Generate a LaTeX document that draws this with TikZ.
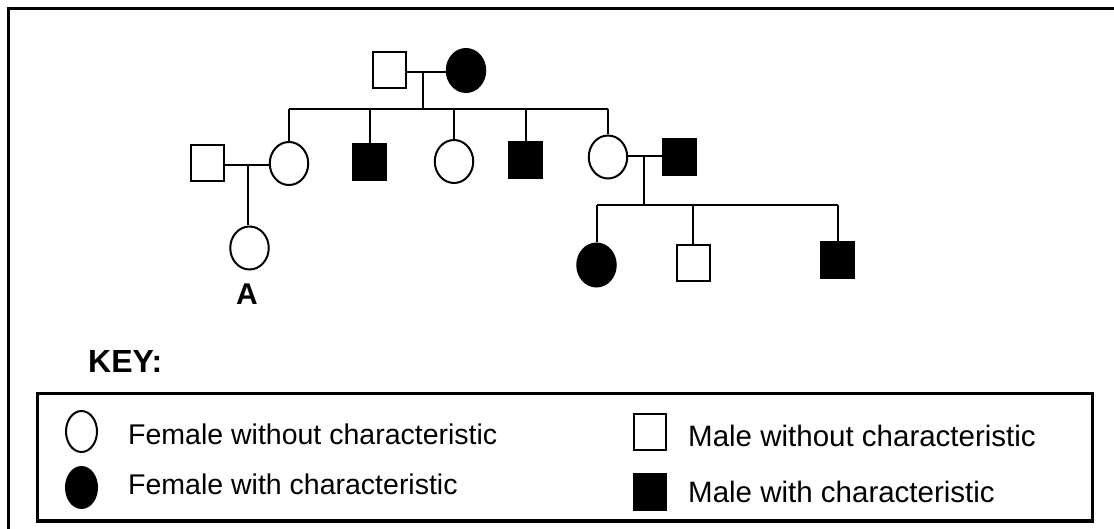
\documentclass[tikz,border=0pt]{standalone}
\usepackage{fontspec}
\setmainfont{Liberation Sans}
\usetikzlibrary{shapes.geometric,backgrounds}
\tikzset{
  fem/.style={ellipse, draw, fill=white, line width=2pt, minimum width=38.5pt, minimum height=43pt, inner sep=0pt},
  femA/.style={fem, fill=black},
  mal/.style={rectangle, draw, fill=white, line width=2pt, minimum width=33pt, minimum height=36pt, inner sep=0pt},
  malA/.style={mal, fill=black},
  link/.style={line width=2pt},
  legtext/.style={anchor=base west, inner sep=0pt, font=\fontsize{28.5}{30}\selectfont},
  boldlab/.style={inner sep=0pt, font=\bfseries\fontsize{30}{32}\selectfont},
}
\begin{document}
\begin{tikzpicture}[x=1pt,y=-1pt]
\useasboundingbox (0,0) rectangle (1114,529);
\draw[line width=3.4pt] (8.5,529) -- (8.5,8.5) -- (1114,8.5);

% generation I
\node[mal]  (p1) at (389.5,70.5) {};
\node[femA] (p2) at (466,70.5) {};
% generation II
\node[mal]  (g1) at (207.5,163.5) {};
\node[fem]  (g2) at (289,163.5) {};
\node[malA] (g3) at (369.5,162) {};
\node[fem]  (g4) at (454,161.5) {};
\node[malA] (g5) at (525.5,160) {};
\node[fem]  (g6) at (608,157) {};
\node[malA] (g7) at (679.5,157) {};
% generation III
\node[fem]  (A)  at (249.5,248) {};
\node[boldlab, anchor=base] (labA) at (247,305) {A};
\node[femA] (c1) at (596.5,265) {};
\node[mal]  (c2) at (693,263) {};
\node[malA] (c3) at (837.5,260) {};

\begin{scope}[on background layer]
  \coordinate (p12) at (423,72);
  \coordinate (s1) at (423,109);
  \draw[link] (p1.east |- p12) -- (p2.west |- p12);
  \draw[link] (p12) -- (s1);
  \draw[link] (g2.north |- s1) -- (g6.north |- s1);
  \foreach \n in {g2,g3,g4,g5,g6} \draw[link] (\n.north |- s1) -- (\n.north);
  \coordinate (l12) at (248,165);
  \draw[link] (g1.east |- l12) -- (g2.west |- l12);
  \draw[link] (l12) -- (l12 |- A.north);
  \coordinate (r12) at (644,156);
  \coordinate (s2) at (644,205);
  \draw[link] (g6.east |- r12) -- (g7.west |- r12);
  \draw[link] (r12) -- (s2);
  \draw[link] (c1.north |- s2) -- (c3.north |- s2);
  \foreach \n in {c1,c2,c3} \draw[link] (\n.north |- s2) -- (\n.north);
\end{scope}

% key
\node[boldlab, anchor=base west, font=\bfseries\fontsize{32}{34}\selectfont] (key) at (88,372) {KEY:};
\draw[line width=3.2pt] (37.5,393.3) rectangle (1092.3,521);
\node[fem, minimum width=31pt, minimum height=41pt] (kf1) at (81.5,431.5) {};
\node[femA, minimum width=31pt, minimum height=41pt] (kf2) at (81.5,487.5) {};
\node[legtext] (tf1) at (128,444) {Female without characteristic};
\node[legtext] (tf2) at (128,494) {Female with characteristic};
\node[mal, minimum width=32pt, minimum height=36pt] (km1) at (650,432) {};
\node[malA, minimum width=32pt, minimum height=36pt] (km2) at (650,492) {};
\node[legtext, font=\fontsize{29.5}{31}\selectfont] (tm1) at (688,446) {Male without characteristic};
\node[legtext, font=\fontsize{29.5}{31}\selectfont] (tm2) at (688,502) {Male with characteristic};
\end{tikzpicture}
\end{document}
